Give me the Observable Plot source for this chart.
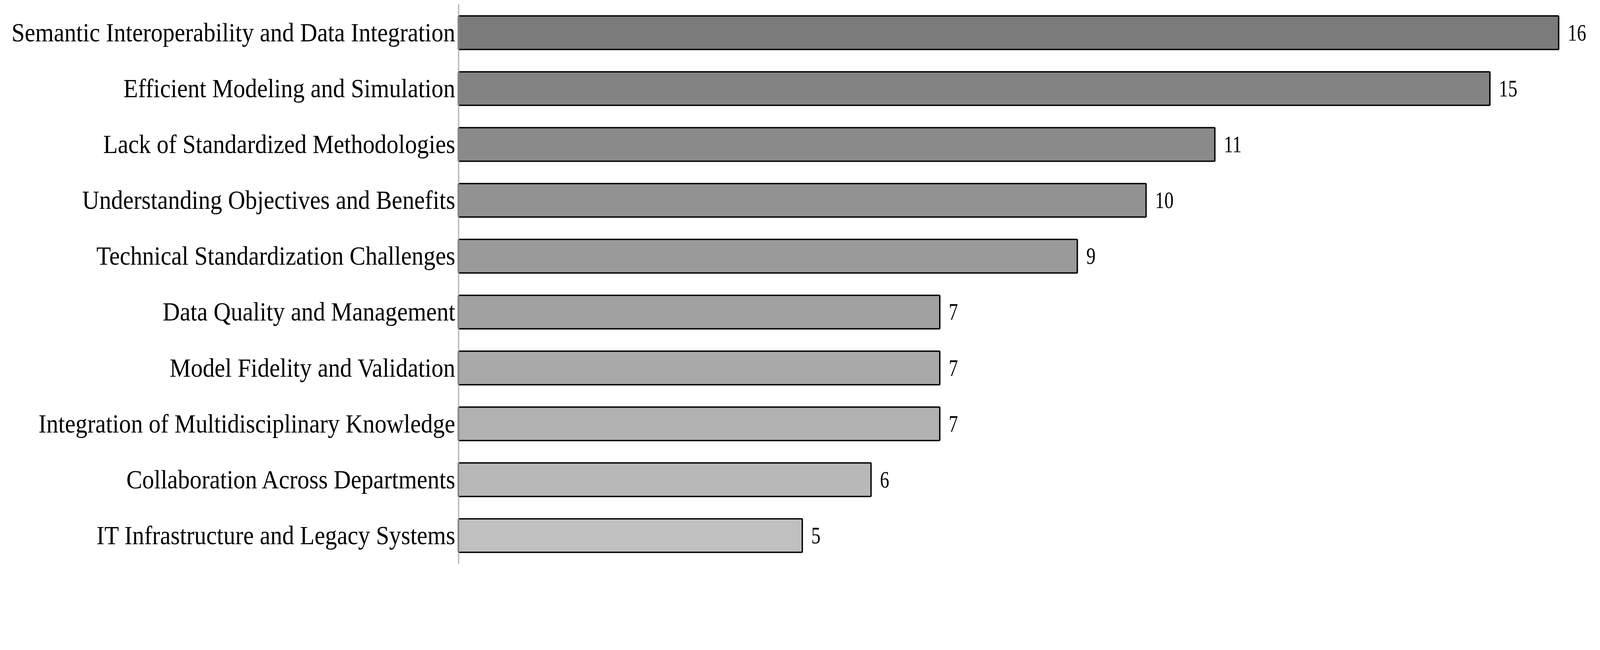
<!DOCTYPE html>
<html>
<head>
<meta charset="utf-8">
<script src="https://cdn.jsdelivr.net/npm/d3@7"></script>
<script src="https://cdn.jsdelivr.net/npm/@observablehq/plot@0.6"></script>
<style>
  html, body { margin: 0; padding: 0; background: white; overflow: hidden; }
  #chart svg { display: block; }
</style>
</head>
<body>
<div id="chart"></div>
<script>
const categories = [
  "Semantic Interoperability and Data Integration",
  "Efficient Modeling and Simulation",
  "Lack of Standardized Methodologies",
  "Understanding Objectives and Benefits",
  "Technical Standardization Challenges",
  "Data Quality and Management",
  "Model Fidelity and Validation",
  "Integration of Multidisciplinary Knowledge",
  "Collaboration Across Departments",
  "IT Infrastructure and Legacy Systems"
];
const values = [16, 15, 11, 10, 9, 7, 7, 7, 6, 5];

const data = categories.map((c, i) => ({ category: c, value: values[i], rank: i }));

const chart = Plot.plot({
  width: 4722,
  height: 1665,
  marginLeft: 1353,
  marginRight: 122,
  marginTop: 13,
  marginBottom: 0,
  style: { fontFamily: "'Liberation Serif', 'Times New Roman', serif", background: "white", color: "black" },
  x: { domain: [0, 16], axis: null },
  y: { domain: categories, paddingInner: 0.4, paddingOuter: 0.2, axis: null },
  color: { type: "linear", domain: [0, 9], range: ["#7b7b7b", "#c0c0c0"] },
  marks: [
    Plot.barX(data, { x: "value", y: "category", fill: "rank", stroke: "black", strokeWidth: 4, rx: 2 }),
    Plot.ruleX([0], { stroke: "#a6a6a6", strokeWidth: 3 }),
    Plot.text(data, { x: "value", y: "category", text: d => String(d.value), textAnchor: "start", dx: 26, fontSize: 71, fill: "black" }),
    Plot.axisY({ tickSize: 0, tickPadding: 10, fontSize: 78, label: null, fill: "black" })
  ]
});
document.getElementById("chart").appendChild(chart);

// horizontally condensed lettering as in the reference
chart.querySelectorAll("text").forEach(t => {
  const L = t.getComputedTextLength();
  if (L > 0) {
    const isAxis = !!t.closest('[aria-label="y-axis tick label"]');
    const k = isAxis ? 0.9 : 0.77;
    t.setAttribute("textLength", (L * k).toFixed(1));
    t.setAttribute("lengthAdjust", "spacingAndGlyphs");
  }
});
</script>
</body>
</html>
